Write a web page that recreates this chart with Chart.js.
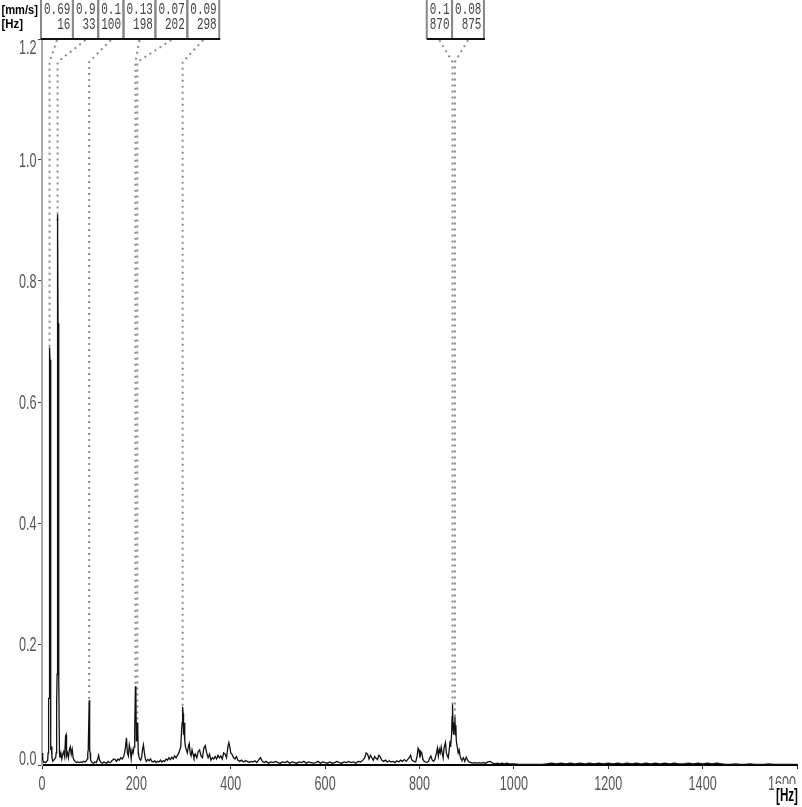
<!DOCTYPE html>
<html>
<head>
<meta charset="utf-8">
<script src="https://cdn.jsdelivr.net/npm/chart.js@4.4.1/dist/chart.umd.min.js"></script>
<style>
html, body { margin: 0; padding: 0; background: #fff; }
canvas { display: block; }
</style>
</head>
<body>
<canvas id="spectrum" width="802" height="807"></canvas>
<script>
// velocity spectrum [mm/s] over frequency [Hz]
const spectrumHz = [
  0, 1, 2, 4, 6, 8, 10, 12, 13, 14, 15, 16, 17, 18, 19, 20, 21, 23, 25, 27, 29, 30,
  31, 32, 33, 34, 35, 36, 37, 38, 40, 42, 44, 46, 48, 50, 51, 52, 54, 56, 58, 60,
  62, 64, 66, 68, 70, 73, 76, 79, 82, 85, 88, 91, 94, 96, 97, 98, 99, 100, 101, 102,
  103, 106, 109, 112, 115, 118, 120, 122, 125, 128, 131, 134, 137, 140, 143, 146, 149, 152, 155, 158,
  161, 164, 167, 170, 173, 175, 177, 179, 181, 183, 185, 187, 189, 191, 193, 195, 196, 197, 198, 199,
  200, 201, 202, 203, 204, 205, 207, 209, 211, 213, 215, 217, 219, 221, 224, 227, 230, 233, 236, 239,
  242, 245, 248, 251, 254, 257, 260, 263, 266, 269, 272, 275, 278, 281, 284, 287, 290, 292, 294, 296,
  297, 298, 299, 300, 301, 302, 303, 304, 306, 308, 310, 312, 314, 316, 318, 320, 322, 325, 328, 331,
  334, 337, 340, 343, 346, 349, 352, 355, 358, 361, 364, 367, 370, 373, 376, 379, 382, 385, 388, 391,
  394, 396, 398, 400, 403, 406, 409, 412, 415, 419, 423, 427, 431, 435, 439, 443, 447, 451, 455, 459,
  463, 467, 471, 475, 480, 485, 490, 495, 500, 505, 510, 515, 520, 525, 530, 535, 540, 545, 550, 555,
  560, 565, 570, 575, 580, 585, 590, 595, 600, 605, 610, 615, 620, 625, 630, 635, 640, 645, 650, 655,
  660, 665, 670, 675, 680, 684, 687, 690, 693, 696, 699, 702, 705, 708, 711, 714, 717, 720, 724, 728,
  732, 736, 740, 744, 748, 752, 756, 760, 764, 768, 772, 776, 779, 781, 784, 788, 792, 795, 797, 799,
  801, 803, 805, 807, 810, 813, 816, 819, 822, 824, 827, 830, 833, 836, 838, 840, 842, 844, 846, 848,
  850, 852, 855, 857, 859, 861, 863, 865, 866, 868, 869, 870, 871, 872, 873, 874, 875, 876, 877, 878,
  880, 882, 884, 886, 888, 890, 893, 896, 899, 902, 905, 909, 913, 917, 921, 925, 930, 935, 940, 945,
  950, 955, 960, 965, 970, 975, 980, 985, 990, 1000, 1010, 1020, 1030, 1040, 1050, 1060, 1070, 1080, 1090, 1100,
  1110, 1120, 1130, 1140, 1150, 1160, 1170, 1180, 1190, 1200, 1210, 1220, 1230, 1240, 1250, 1260, 1270, 1280, 1290, 1300,
  1310, 1320, 1330, 1340, 1350, 1360, 1370, 1380, 1390, 1400, 1410, 1420, 1430, 1440, 1450, 1460, 1470, 1480, 1490, 1500,
  1510, 1520, 1530, 1540, 1550, 1560, 1570, 1580, 1590, 1600
];
const spectrumAmp = [
  0.015, 0.02, 0.008, 0.004, 0.005, 0.004, 0.006, 0.008, 0.02, 0.11, 0.11, 0.69, 0.67, 0.025, 0.03, 0.03, 0.012, 0.006, 0.008, 0.01, 0.012, 0.02,
  0.1, 0.15, 0.91, 0.73, 0.15, 0.14, 0.02, 0.012, 0.02, 0.01, 0.018, 0.022, 0.014, 0.048, 0.05, 0.015, 0.02, 0.012, 0.025, 0.03,
  0.018, 0.026, 0.012, 0.008, 0.006, 0.004, 0.005, 0.004, 0.005, 0.004, 0.006, 0.005, 0.007, 0.01, 0.02, 0.025, 0.025, 0.107, 0.025, 0.02,
  0.008, 0.004, 0.003, 0.005, 0.004, 0.01, 0.016, 0.008, 0.004, 0.003, 0.005, 0.004, 0.003, 0.006, 0.004, 0.005, 0.008, 0.01, 0.009, 0.006,
  0.01, 0.008, 0.012, 0.01, 0.014, 0.02, 0.03, 0.045, 0.02, 0.015, 0.033, 0.025, 0.01, 0.025, 0.02, 0.03, 0.035, 0.06, 0.13, 0.11,
  0.04, 0.05, 0.07, 0.06, 0.02, 0.015, 0.01, 0.008, 0.012, 0.025, 0.033, 0.02, 0.01, 0.006, 0.009, 0.007, 0.01, 0.006, 0.005, 0.007,
  0.004, 0.006, 0.005, 0.008, 0.005, 0.007, 0.006, 0.01, 0.008, 0.012, 0.009, 0.013, 0.01, 0.015, 0.012, 0.016, 0.02, 0.025, 0.03, 0.06,
  0.07, 0.096, 0.085, 0.05, 0.06, 0.07, 0.04, 0.03, 0.025, 0.02, 0.03, 0.035, 0.02, 0.015, 0.025, 0.018, 0.012, 0.018, 0.012, 0.022,
  0.025, 0.015, 0.012, 0.028, 0.032, 0.02, 0.012, 0.018, 0.008, 0.012, 0.01, 0.014, 0.01, 0.016, 0.012, 0.015, 0.01, 0.02, 0.018, 0.012,
  0.03, 0.037, 0.03, 0.02, 0.017, 0.012, 0.01, 0.014, 0.008, 0.006, 0.008, 0.005, 0.007, 0.006, 0.004, 0.006, 0.005, 0.007, 0.004, 0.008,
  0.012, 0.006, 0.004, 0.006, 0.003, 0.005, 0.004, 0.006, 0.004, 0.003, 0.005, 0.004, 0.006, 0.003, 0.005, 0.004, 0.003, 0.005, 0.004, 0.006,
  0.003, 0.005, 0.004, 0.003, 0.004, 0.006, 0.003, 0.005, 0.004, 0.003, 0.005, 0.003, 0.004, 0.006, 0.004, 0.003, 0.005, 0.004, 0.006, 0.004,
  0.005, 0.003, 0.006, 0.005, 0.008, 0.012, 0.02, 0.018, 0.01, 0.016, 0.012, 0.008, 0.014, 0.011, 0.009, 0.016, 0.013, 0.008, 0.006, 0.008,
  0.005, 0.007, 0.005, 0.006, 0.004, 0.007, 0.005, 0.008, 0.006, 0.009, 0.006, 0.01, 0.013, 0.016, 0.008, 0.006, 0.005, 0.015, 0.028, 0.025,
  0.012, 0.022, 0.02, 0.01, 0.006, 0.005, 0.004, 0.006, 0.012, 0.015, 0.008, 0.006, 0.01, 0.02, 0.028, 0.015, 0.026, 0.02, 0.03, 0.02,
  0.012, 0.028, 0.037, 0.02, 0.015, 0.012, 0.025, 0.04, 0.03, 0.05, 0.08, 0.1, 0.06, 0.07, 0.05, 0.07, 0.08, 0.05, 0.066, 0.04,
  0.03, 0.02, 0.025, 0.015, 0.01, 0.008, 0.012, 0.006, 0.013, 0.008, 0.005, 0.004, 0.003, 0.004, 0.003, 0.004, 0.003, 0.004, 0.003, 0.005,
  0.006, 0.003, 0.002, 0.003, 0.002, 0.003, 0.002, 0.003, 0.002, 0.002, 0.001, 0.001, 0.001, 0.001, 0.001, 0.001, 0.002, 0.003, 0.002, 0.003,
  0.002, 0.003, 0.002, 0.003, 0.002, 0.003, 0.002, 0.003, 0.002, 0.003, 0.002, 0.003, 0.002, 0.003, 0.002, 0.003, 0.002, 0.003, 0.002, 0.003,
  0.002, 0.003, 0.002, 0.003, 0.002, 0.002, 0.003, 0.002, 0.003, 0.002, 0.003, 0.002, 0.003, 0.002, 0.001, 0.001, 0.002, 0.001, 0.001, 0.002,
  0.001, 0.001, 0.001, 0.002, 0.001, 0.001, 0.001, 0.001, 0.001, 0.001
];

// cursor markers shown in the boxes at the top
const markerHz = [16, 33, 100, 198, 202, 298, 870, 875];
const markerAmp = [0.69, 0.9, 0.1, 0.13, 0.07, 0.09, 0.1, 0.08];

const xTicks = [0, 200, 400, 600, 800, 1000, 1200, 1400, 1600];
const yTicks = [0, 0.2, 0.4, 0.6, 0.8, 1.0, 1.2];

const TICK_FONT = '20px "Liberation Sans", Arial, sans-serif';
const BOX_FONT = '11px "Liberation Mono", "DejaVu Sans Mono", monospace';
const UNIT_FONT = 'bold 13px "Liberation Sans", Arial, sans-serif';

// text squeezed / stretched to look like the narrow font of the original
function squeezeText(ctx, txt, x, y, font, sx, sy, align, color) {
  ctx.save();
  ctx.font = font;
  ctx.fillStyle = color;
  ctx.textAlign = align;
  ctx.textBaseline = 'alphabetic';
  ctx.translate(x, y);
  ctx.scale(sx, sy);
  ctx.fillText(txt, 0, 0);
  ctx.restore();
}

function fitText(ctx, txt, x, y, font, width, sy, color) {
  ctx.save();
  ctx.font = font;
  const w = ctx.measureText(txt).width;
  ctx.restore();
  squeezeText(ctx, txt, x, y, font, width / w, sy, 'left', color);
}

// boxes are centred on their cursor, pushed apart when they overlap
function layoutBoxes(items, minLeft) {
  let groups = items.map(it => ({ items: [it] }));
  const place = g => {
    let off = 0, sum = 0;
    g.items.forEach(it => { sum += it.c - off - it.w / 2; off += it.w; });
    g.w = off;
    g.left = Math.max(minLeft, sum / g.items.length);
  };
  groups.forEach(place);
  let merged = true;
  while (merged) {
    merged = false;
    for (let i = 0; i < groups.length - 1; i++) {
      if (groups[i].left + groups[i].w > groups[i + 1].left) {
        groups[i].items = groups[i].items.concat(groups[i + 1].items);
        groups.splice(i + 1, 1);
        place(groups[i]);
        merged = true;
        break;
      }
    }
  }
  groups.forEach(g => {
    let x = g.left;
    g.items.forEach(it => { it.left = x; x += it.w; });
  });
  return groups;
}

const bgPlugin = {
  id: 'bgPlugin',
  beforeDraw(chart) {
    const ctx = chart.ctx;
    ctx.save();
    ctx.fillStyle = '#fff';
    ctx.fillRect(0, 0, chart.width, chart.height);
    ctx.restore();
  }
};

let boxGroups = null;

const cursorPlugin = {
  id: 'cursorPlugin',
  beforeDatasetsDraw(chart) {
    const ctx = chart.ctx, xs = chart.scales.x, ys = chart.scales.y, area = chart.chartArea;
    ctx.save();
    ctx.font = BOX_FONT;
    const items = markerHz.map((hz, i) => {
      const t1 = String(markerAmp[i]), t2 = String(hz);
      const w = Math.max(ctx.measureText(t1).width, ctx.measureText(t2).width) + 5.5;
      return { c: xs.getPixelForValue(hz), w: w, t1: t1, t2: t2, py: ys.getPixelForValue(markerAmp[i]) };
    });
    boxGroups = layoutBoxes(items, area.left - 1);

    // dotted leader lines
    ctx.strokeStyle = '#8c8c8c';
    ctx.lineWidth = 2;
    ctx.setLineDash([2, 4]);
    boxGroups.forEach(g => g.items.forEach(it => {
      ctx.beginPath();
      ctx.moveTo(it.left + it.w / 2, area.top + 1);
      ctx.lineTo(it.c, area.top + 23);
      ctx.lineTo(it.c, it.py);
      ctx.stroke();
    }));
    ctx.restore();
  },
  afterDraw(chart) {
    const ctx = chart.ctx, area = chart.chartArea;
    if (!boxGroups) return;
    ctx.save();
    boxGroups.forEach(g => {
      g.items.forEach(it => {
        ctx.fillStyle = '#fff';
        ctx.fillRect(it.left, 0, it.w, area.top);
        squeezeText(ctx, it.t1, it.left + it.w - 2.5, 14, BOX_FONT, 1, 1.5, 'right', '#444');
        squeezeText(ctx, it.t2, it.left + it.w - 2.5, 28.5, BOX_FONT, 1, 1.5, 'right', '#444');
      });
      ctx.strokeStyle = '#888';
      ctx.lineWidth = 2;
      g.items.forEach(it => {
        ctx.beginPath();
        ctx.moveTo(it.left, 0); ctx.lineTo(it.left, area.top);
        ctx.moveTo(it.left + it.w, 0); ctx.lineTo(it.left + it.w, area.top);
        ctx.stroke();
      });
      ctx.strokeStyle = '#111';
      ctx.beginPath();
      ctx.moveTo(g.left, area.top);
      ctx.lineTo(g.left + g.w + 1, area.top);
      ctx.stroke();
    });
    ctx.restore();
  }
};

const axisTextPlugin = {
  id: 'axisTextPlugin',
  afterDraw(chart) {
    const ctx = chart.ctx, xs = chart.scales.x, ys = chart.scales.y, area = chart.chartArea;
    yTicks.forEach((v, i) => {
      const py = ys.getPixelForValue(v);
      let base = py + 7;
      if (i === 0) base = py;
      if (i === yTicks.length - 1) base = py + 14.5;
      squeezeText(ctx, v.toFixed(1), area.left - 5.5, base, TICK_FONT, 0.63, 1, 'right', '#555');
    });
    xTicks.forEach((v, i) => {
      let px = xs.getPixelForValue(v), align = 'center';
      if (i === xTicks.length - 1) { px = area.right - 1; align = 'right'; }
      squeezeText(ctx, String(v), px, 790, TICK_FONT, 0.63, 1, align, '#555');
    });
    // units
    fitText(ctx, '[mm/s]', 1.5, 14, UNIT_FONT, 36.5, 1.05, '#000');
    fitText(ctx, '[Hz]', 1.5, 28, UNIT_FONT, 21.5, 1.05, '#000');
    ctx.save();
    ctx.fillStyle = '#fff';
    ctx.fillRect(774, 784, 28, 23);
    ctx.restore();
    fitText(ctx, '[Hz]', 776, 801, UNIT_FONT, 22, 1.4, '#000');
  }
};

const points = spectrumHz.map((hz, i) => ({ x: hz, y: spectrumAmp[i] }));

new Chart(document.getElementById('spectrum'), {
  type: 'line',
  data: {
    datasets: [{
      data: points,
      borderColor: '#111',
      borderWidth: 1.3,
      pointRadius: 0,
      tension: 0,
      fill: false
    }]
  },
  options: {
    responsive: false,
    animation: false,
    events: [],
    layout: { padding: { left: 38, right: 5, top: 39, bottom: 38 } },
    plugins: { legend: { display: false }, tooltip: { enabled: false } },
    scales: {
      x: {
        type: 'linear',
        min: 0,
        max: 1600,
        afterBuildTicks: s => { s.ticks = xTicks.map(v => ({ value: v })); },
        ticks: { display: false },
        grid: { drawOnChartArea: false, drawTicks: true, tickLength: 4, color: '#333', lineWidth: 1 },
        border: { display: true, color: '#000', width: 2 }
      },
      y: {
        type: 'linear',
        min: 0,
        max: 1.2,
        afterBuildTicks: s => { s.ticks = yTicks.map(v => ({ value: v })); },
        ticks: { display: false },
        grid: { drawOnChartArea: false, drawTicks: true, tickLength: 4, color: '#444', lineWidth: 1 },
        border: { display: true, color: '#aaa', width: 2 }
      }
    }
  },
  plugins: [bgPlugin, cursorPlugin, axisTextPlugin]
});
</script>
</body>
</html>
